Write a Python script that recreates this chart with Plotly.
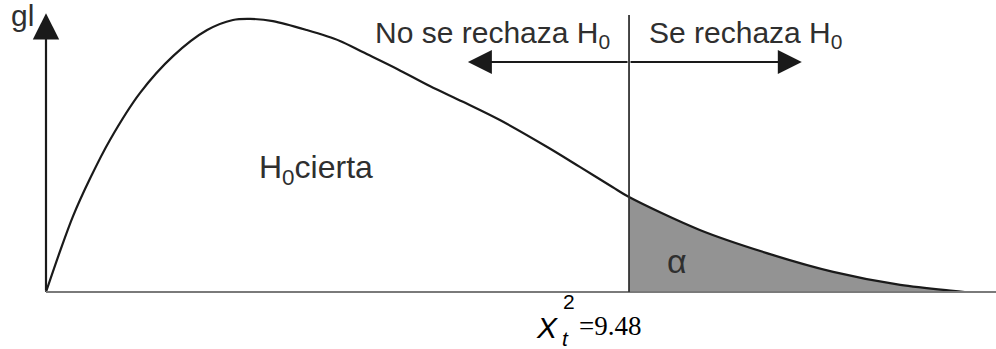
import plotly.graph_objects as go

# curva chi-cuadrado (lectura de la figura)
x_vals = [0, 0.23, 0.44, 0.72, 1.04, 1.53, 2.07, 2.62, 3.04, 3.32, 3.69, 4.24, 4.78,
          5.15, 5.71, 6.24, 6.78, 7.38, 8.15, 8.68, 9.21, 9.48, 10.63, 11.72, 12.80,
          13.89, 14.75, 14.94]
y_vals = [0, 15.1, 27.9, 41.9, 55.9, 73.2, 86.8, 96.3, 100.0, 100.4, 99.6, 96.3, 92.3,
          88.2, 82.0, 75.7, 69.9, 63.2, 53.3, 46.0, 38.6, 34.9, 22.8, 14.3, 7.4,
          2.6, 0.4, 0]
critico = 9.48
alpha_label = "α"

txt = "#2f2f2f"
sans = "Liberation Sans"
serif = "Liberation Serif"

i0 = x_vals.index(critico)
tail_x = x_vals[i0:]
tail_y = y_vals[i0:]

fig = go.Figure()
fig.add_trace(go.Scatter(x=tail_x, y=tail_y, mode="lines", fill="tozeroy",
                         fillcolor="#939393", line=dict(color="rgba(0,0,0,0)", width=0,
                         shape="spline", smoothing=0.9), hoverinfo="skip"))
fig.add_trace(go.Scatter(x=x_vals, y=y_vals, mode="lines", line=dict(color="#1a1a1a", width=2.2,
                         shape="spline", smoothing=0.9), hoverinfo="skip"))

# linea base y linea del valor critico
fig.add_shape(type="line", x0=0, x1=15.5, y0=0, y1=0, line=dict(color="#7a7a7a", width=2))
fig.add_shape(type="line", x0=critico, x1=critico, y0=0, y1=101.8, line=dict(color="#333333", width=1.8))

ann = []
# eje vertical con flecha
ann.append(dict(x=0, y=102.5, ax=0, ay=0, axref="x", ayref="y", xref="x", yref="y", text="",
                showarrow=True, arrowhead=2, arrowsize=2.4, arrowwidth=2.2, arrowcolor="#1a1a1a"))
# flechas horizontales
ann.append(dict(x=6.86, y=84.6, ax=critico, ay=84.6, axref="x", ayref="y", text="",
                showarrow=True, arrowhead=2, arrowsize=2.4, arrowwidth=2, arrowcolor="#1a1a1a"))
ann.append(dict(x=12.29, y=84.6, ax=critico, ay=84.6, axref="x", ayref="y", text="",
                showarrow=True, arrowhead=2, arrowsize=2.4, arrowwidth=2, arrowcolor="#1a1a1a"))

ann.append(dict(x=-0.17, y=101.5, text="gl", showarrow=False, xanchor="right",
                font=dict(family=sans, size=30, color=txt)))
ann.append(dict(x=9.2, y=94.5, text="No se rechaza H<sub>0</sub>", showarrow=False, xanchor="right",
                font=dict(family=sans, size=30, color=txt)))
ann.append(dict(x=9.77, y=94.5, text="Se rechaza H<sub>0</sub>", showarrow=False, xanchor="left",
                font=dict(family=sans, size=30, color=txt)))
ann.append(dict(x=4.39, y=45.2, text="H<sub>0</sub>cierta", showarrow=False,
                font=dict(family=sans, size=32, color=txt)))
ann.append(dict(x=10.26, y=11.5, text=alpha_label, showarrow=False,
                font=dict(family=sans, size=34, color=txt)))

# etiqueta del valor critico
ann.append(dict(x=8.15, y=-12.9, text="<i>X</i>", showarrow=False,
                font=dict(family=sans, size=30, color="#000000")))
ann.append(dict(x=8.50, y=-3.6, text="2", showarrow=False,
                font=dict(family=sans, size=21, color="#000000")))
ann.append(dict(x=8.44, y=-17.0, text="<i>t</i>", showarrow=False,
                font=dict(family=sans, size=21, color="#000000")))
ann.append(dict(x=8.63, y=-12.6, text="=%.2f" % critico, showarrow=False, xanchor="left",
                font=dict(family=serif, size=27, color="#000000")))

fig.update_layout(
    width=996, height=349,
    margin=dict(l=0, r=0, t=0, b=0, pad=0, autoexpand=False),
    paper_bgcolor="white", plot_bgcolor="white",
    showlegend=False,
    annotations=ann,
    xaxis=dict(range=[-0.748, 15.447], visible=False, fixedrange=True),
    yaxis=dict(range=[-20.96, 107.35], visible=False, fixedrange=True),
)

# quitar el margen por defecto del body para que la figura empiece en (0, 0)
fig.write_html("out.html", config={"displayModeBar": False},
               post_script="document.body.style.margin='0';document.body.style.overflow='hidden';")
